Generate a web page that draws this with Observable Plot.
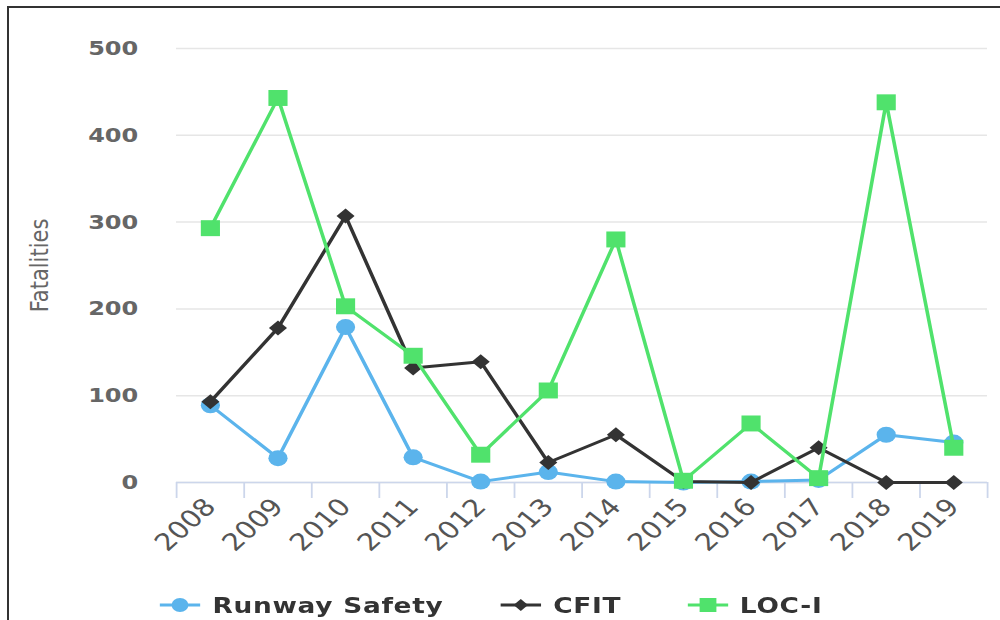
<!DOCTYPE html>
<html><head><meta charset="utf-8">
<script src="https://cdn.jsdelivr.net/npm/d3@7"></script>
<script src="https://cdn.jsdelivr.net/npm/@observablehq/plot@0.6"></script>
<style>
body{margin:0;background:#fff;width:1000px;height:620px;overflow:hidden;position:relative;}
#frame{position:absolute;left:7px;top:6px;width:1000px;height:620px;border-left:2px solid #333;border-top:2px solid #333;z-index:5;pointer-events:none;}
#wrap{position:absolute;left:0;top:0;width:833.333px;height:620px;transform:scale(1.2,1);transform-origin:0 0;}
#legend{position:absolute;top:588px;left:0;width:100%;height:34px;font:bold 22px "DejaVu Sans",sans-serif;color:#333;letter-spacing:0.6px;}
.item{position:absolute;top:0;display:flex;align-items:center;height:34px;white-space:nowrap;}
.item svg{margin-right:10px;}
</style></head><body>
<div id="wrap"><div id="chart"></div><div id="legend"></div></div>
<div id="frame"></div>
<script>
const years = [2008,2009,2010,2011,2012,2013,2014,2015,2016,2017,2018,2019];
const runwaySafety = [89,28,179,29,1,12,1,0,1,3,55,46];
const cfit = [93,178,307,132,139,23,55,1,0,40,0,0];
const locI = [293,443,203,146,32,106,280,2,68,5,438,40];
const seriesNames = ["Runway Safety","CFIT","LOC-I"];
const seriesColors = ["#5bb4ec","#333333","#50e26c"];
const yTicks = [0,100,200,300,400,500];
const yLabel = "Fatalities";

const S = 1.2;
const W = 1000 / S;
const diamond = {draw(ctx, size){const r = Math.sqrt(size/2); ctx.moveTo(0,-r); ctx.lineTo(r,0); ctx.lineTo(0,r); ctx.lineTo(-r,0); ctx.closePath();}};
const seriesValues = [runwaySafety, cfit, locI];
const symbols = ["circle", diamond, "square"];
const radii = [8, 6, 9];
const edges = years.map(y => y - 0.5).concat([years[years.length-1] + 0.5]);

const seriesMarks = seriesNames.flatMap((name, k) => {
  const d = years.map((yr, i) => ({year: yr, value: seriesValues[k][i]}));
  return [
    Plot.line(d, {x: "year", y: "value", stroke: seriesColors[k], strokeWidth: 3}),
    Plot.dot(d, {x: "year", y: "value", fill: seriesColors[k], r: radii[k], symbol: () => symbols[k]})
  ];
});

const chart = Plot.plot({
  width: W, height: 570,
  marginLeft: 176 / S, marginRight: W - 987 / S, marginTop: 48, marginBottom: 88,
  x: {type: "linear", domain: [edges[0], edges[edges.length-1]]},
  y: {domain: [0, 500]},
  style: {background: "white", overflow: "visible", fontFamily: "DejaVu Sans"},
  marks: [
    Plot.gridY(yTicks, {stroke: "#e6e6e6", strokeOpacity: 1, strokeWidth: 1.5}),
    Plot.axisY(yTicks, {tickSize: 0, tickPadding: 32, fontSize: 20, fontWeight: "bold", fill: "#666", label: null}),
    Plot.text([yLabel], {frameAnchor: "left", dx: 33 - 176 / S, rotate: -90, textAnchor: "middle", fontSize: 21, fill: "#666", fontFamily: "DejaVu Sans"}),
    Plot.ruleY([0], {stroke: "#ccd6eb", strokeWidth: 1.5}),
    Plot.axisX(edges, {tickSize: 16, stroke: "#ccd6eb", strokeOpacity: 1, strokeWidth: 1.5, tickFormat: () => "", label: null}),
    Plot.axisX(years, {tickSize: 0, tickRotate: -47, tickPadding: 20, fontSize: 24, fill: "#555", tickFormat: d => String(d), label: null}),
    ...seriesMarks
  ]
});
document.getElementById("chart").appendChild(chart);

const legend = document.getElementById("legend");
const lefts = [133, 417, 572.5];
seriesNames.forEach((name, k) => {
  const item = document.createElement("div");
  item.className = "item";
  item.style.left = lefts[k] + "px";
  const sym = k === 0 ? `<circle cx="17" cy="17" r="7" fill="${seriesColors[k]}"/>`
    : k === 1 ? `<path d="M17,11 L23,17 L17,23 L11,17 Z" fill="${seriesColors[k]}"/>`
    : `<rect x="10" y="10" width="14" height="14" fill="${seriesColors[k]}"/>`;
  item.innerHTML = `<svg width="34" height="34"><line x1="0" x2="34" y1="17" y2="17" stroke="${seriesColors[k]}" stroke-width="3"/>${sym}</svg><span>${name}</span>`;
  legend.appendChild(item);
});
</script>
</body></html>
